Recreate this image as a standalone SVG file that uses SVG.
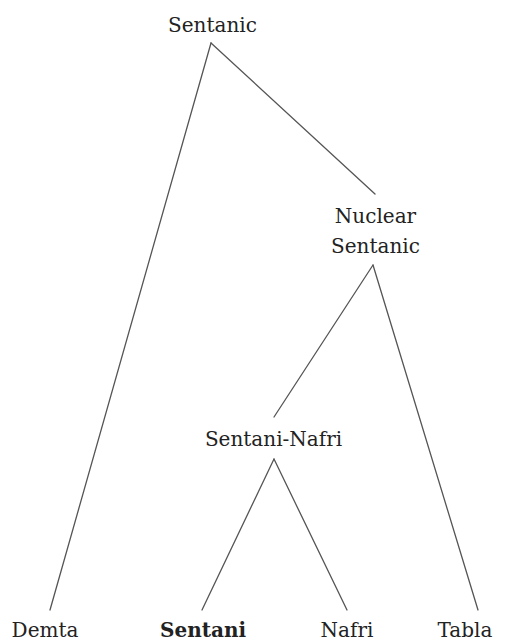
<svg xmlns="http://www.w3.org/2000/svg" width="507" height="641" viewBox="0 0 507 641">
  <style>
    .lbl { font-family: "DejaVu Serif", "Liberation Serif", serif; font-size: 20px; fill: #222; text-anchor: middle; }
    .bold { font-weight: bold; }
    .edge { stroke: #555; stroke-width: 1.3; fill: none; stroke-linecap: round; }
  </style>
  <rect width="507" height="641" fill="#fff"/>
  <g id="connectors">
    <line class="edge" x1="211" y1="43" x2="375" y2="194"/>
    <line class="edge" x1="211" y1="43" x2="50" y2="610"/>
    <line class="edge" x1="373" y1="265" x2="274" y2="417"/>
    <line class="edge" x1="373" y1="265" x2="478" y2="610"/>
    <line class="edge" x1="274" y1="459" x2="202" y2="610"/>
    <line class="edge" x1="274" y1="459" x2="347" y2="610"/>
  </g>
  <g id="sentanic"><text class="lbl" x="212.5" y="31.5">Sentanic</text></g>
  <g id="nuclear-sentanic">
    <text class="lbl" x="375.5" y="223">Nuclear</text>
    <text class="lbl" x="375.5" y="253">Sentanic</text>
  </g>
  <g id="sentani-nafri"><text class="lbl" x="273.5" y="446">Sentani-Nafri</text></g>
  <g id="demta"><text class="lbl" x="45" y="637">Demta</text></g>
  <g id="sentani"><text class="lbl bold" x="203" y="637">Sentani</text></g>
  <g id="nafri"><text class="lbl" x="347" y="637">Nafri</text></g>
  <g id="tabla"><text class="lbl" x="465" y="637">Tabla</text></g>
</svg>
